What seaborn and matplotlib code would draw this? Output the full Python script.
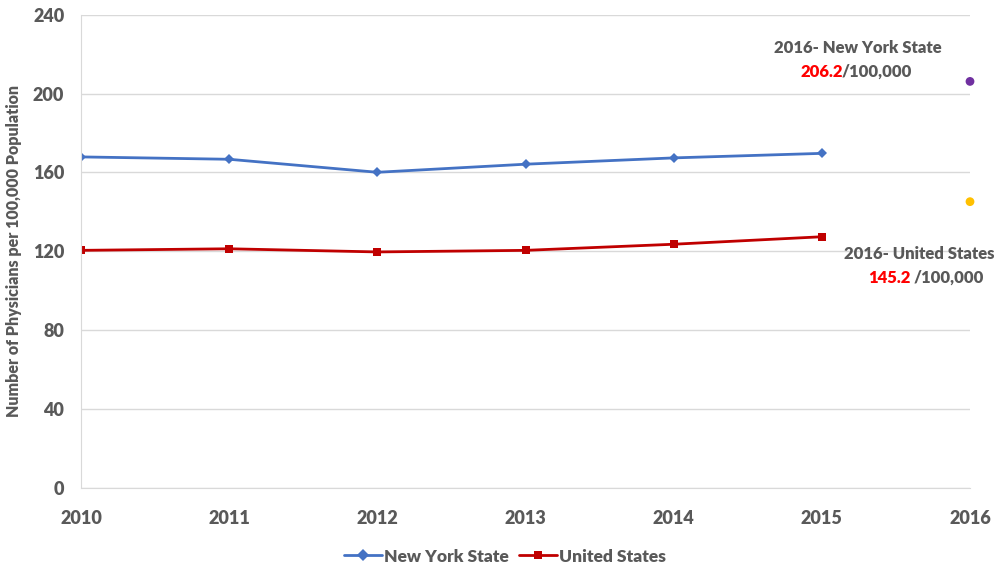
import pandas as pd
import seaborn as sns
import matplotlib.pyplot as plt

# physicians per 100,000 population
years = [2010, 2011, 2012, 2013, 2014, 2015]
ny_rate = [167.9, 166.7, 160.1, 164.2, 167.4, 169.7]
us_rate = [120.5, 121.3, 119.7, 120.5, 123.6, 127.4]
year_2016 = [2016, 2016]
rate_2016 = [206.2, 145.2]
series_names = ['New York State', 'United States']

df = pd.DataFrame({
    'year': years * 2,
    'rate': ny_rate + us_rate,
    'series': [series_names[0]] * len(years) + [series_names[1]] * len(years),
})

sns.set_style('white')
plt.rcParams['font.family'] = ['Lato', 'DejaVu Sans']
gray = '#595959'

fig = plt.figure(figsize=(10, 5.68), dpi=100)
ax = fig.add_axes([0.081, 0.141, 0.889, 0.833])

sns.lineplot(data=df, x='year', y='rate', hue='series', style='series',
             palette=['#4472C4', '#C00000'], markers=['D', 's'], dashes=False,
             markersize=6, linewidth=2, markeredgewidth=0, ax=ax)
ax.lines[0].set_markersize(5)

sns.scatterplot(x=year_2016, y=rate_2016, hue=['ny', 'us'],
                palette=['#7030A0', '#FFC000'], s=40, linewidth=0,
                legend=False, ax=ax)
for c in ax.collections:
    c.set_clip_on(False)

ax.set_xlim(2010, 2016)
ax.set_ylim(0, 240)
ax.set_yticks(range(0, 241, 40))
ax.set_xticks(range(2010, 2017))
ax.yaxis.grid(True, color='#d9d9d9', linewidth=1)
ax.set_axisbelow(True)
for s in ['top', 'right']:
    ax.spines[s].set_visible(False)
ax.spines['left'].set_color('#d9d9d9')
ax.spines['bottom'].set_color('#d9d9d9')
ax.tick_params(axis='x', length=0, pad=16, labelsize=13, labelcolor=gray)
ax.tick_params(axis='y', length=0, pad=12, labelsize=13, labelcolor=gray)
for lab in ax.get_xticklabels() + ax.get_yticklabels():
    lab.set_fontweight('heavy')
ax.set_xlabel('')
ax.set_ylabel('Number of Physicians per 100,000 Population', fontsize=11.5,
              fontweight='heavy', color=gray, labelpad=8)

# annotations for 2016
ax.text(2015.24, 223, '2016- New York State', ha='center', va='center',
        fontsize=12, fontweight='heavy', color=gray)
ax.text(2015.14, 211, '206.2', ha='right', va='center', fontsize=12,
        fontweight='heavy', color='red')
ax.text(2015.135, 211, '/100,000', ha='left', va='center', fontsize=12,
        fontweight='heavy', color=gray)
ax.text(2015.66, 118.5, '2016- United States', ha='center', va='center',
        fontsize=12, fontweight='heavy', color=gray)
ax.text(2015.6, 106.5, '145.2', ha='right', va='center', fontsize=12,
        fontweight='heavy', color='red')
ax.text(2015.62, 106.5, '/100,000', ha='left', va='center', fontsize=12,
        fontweight='heavy', color=gray)

handles, labels = ax.get_legend_handles_labels()
leg = ax.legend(handles, labels, loc='center', bbox_to_anchor=(0.477, -0.145),
                ncol=2, frameon=False, handlelength=2.2, handletextpad=0.1,
                columnspacing=0.6, prop={'size': 12.5, 'weight': 'heavy'})
for t in leg.get_texts():
    t.set_color(gray)

fig.savefig('out.png', dpi=100)
